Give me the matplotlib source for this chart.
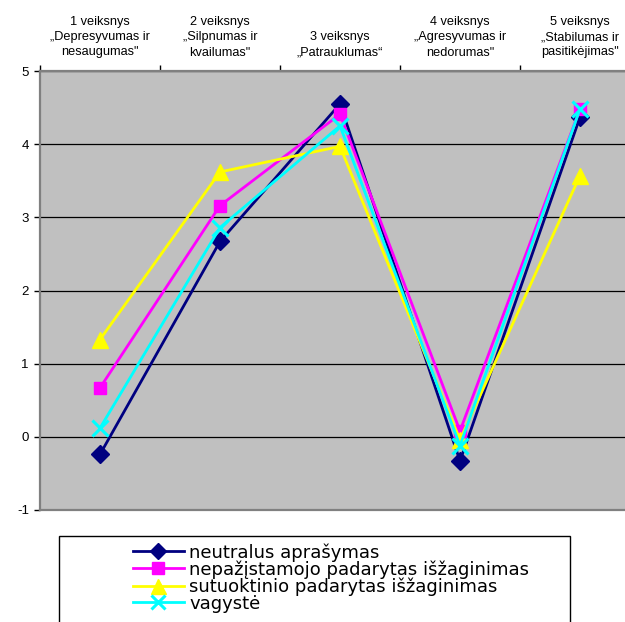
import matplotlib
matplotlib.use("Agg")
import matplotlib.pyplot as plt
from matplotlib.patches import Rectangle
import numpy as np

categories = ["1 veiksnys\n\u201eDepresyvumas ir\nnesaugumas\"",
              "2 veiksnys\n\u201eSilpnumas ir\nkvailumas\"",
              "3 veiksnys\n\u201ePatrauklumas\u201c",
              "4 veiksnys\n\u201eAgresyvumas ir\nnedorumas\"",
              "5 veiksnys\n\u201eStabilumas ir\npasitik\u0117jimas\""]

series_names = ["neutralus apra\u0161ymas",
                "nepa\u017e\u012fstamojo padarytas i\u0161\u017eaginimas",
                "sutuoktinio padarytas i\u0161\u017eaginimas",
                "vagyst\u0117"]

neutralus = [-0.24, 2.67, 4.55, -0.33, 4.37]
nepazistamojo = [0.67, 3.16, 4.41, 0.08, 4.48]
sutuoktinio = [1.33, 3.62, 3.97, -0.04, 3.57]
vagyste = [0.12, 2.86, 4.25, -0.12, 4.48]

y_ticks = [-1, 0, 1, 2, 3, 4, 5]

plt.rcParams['font.family'] = ['Liberation Sans', 'DejaVu Sans']

fig = plt.figure(figsize=(6.25, 6.22), dpi=100)
W, H = 625, 622
ax = fig.add_axes([40 / W, (H - 510) / H, 600 / W, 439 / H])
ax.set_facecolor('#C0C0C0')

x = np.arange(len(categories))
styles = [
    (neutralus, '#000080', 'D', 9, dict()),
    (nepazistamojo, '#FF00FF', 's', 9, dict()),
    (sutuoktinio, '#FFFF00', '^', 12, dict()),
    (vagyste, '#00FFFF', 'x', 11, dict(markeredgewidth=2.2)),
]
handles = []
for vals, col, mk, ms, extra in styles:
    h, = ax.plot(x, vals, color=col, marker=mk, markersize=ms, linewidth=2.0,
                 markerfacecolor=col, markeredgecolor=col, zorder=3,
                 clip_on=False, **extra)
    handles.append(h)

ax.set_xlim(-0.5, 4.5)
ax.set_ylim(-1, 5)
ax.set_yticks(y_ticks)
ax.set_yticklabels([str(v) for v in y_ticks], fontsize=9.5)
ax.tick_params(axis='y', direction='out', length=4, width=1, color='black', pad=4)

ax.xaxis.tick_top()
ax.set_xticks(np.arange(-0.5, 5.0, 1.0))
ax.set_xticklabels([])
ax.set_xticks(x, minor=True)
ax.set_xticklabels(categories, minor=True, fontsize=9.2, linespacing=1.35)
ax.tick_params(axis='x', which='major', direction='out', length=4, width=1, color='black')
ax.tick_params(axis='x', which='minor', length=0, pad=9)

ax.grid(axis='y', color='black', linewidth=0.9)
ax.set_axisbelow(True)
for s in ax.spines.values():
    s.set_color('#808080')
    s.set_linewidth(1.6)

# legend box (clipped at figure bottom)
fig.patches.append(Rectangle((59 / W, -0.05), 511 / W, (H - 536) / H + 0.05,
                             transform=fig.transFigure, facecolor='white',
                             edgecolor='black', linewidth=1.0, zorder=1))
leg = fig.legend(handles, series_names, loc='upper left',
                 bbox_to_anchor=(133 / W, (H - 543) / H), frameon=False,
                 prop={'family': 'DejaVu Sans', 'size': 13},
                 handlelength=2.8, handletextpad=0.3, labelspacing=-0.07,
                 borderpad=0, borderaxespad=0, markerscale=0.9)
leg.set_zorder(2)

fig.savefig("out.png", dpi=100)
